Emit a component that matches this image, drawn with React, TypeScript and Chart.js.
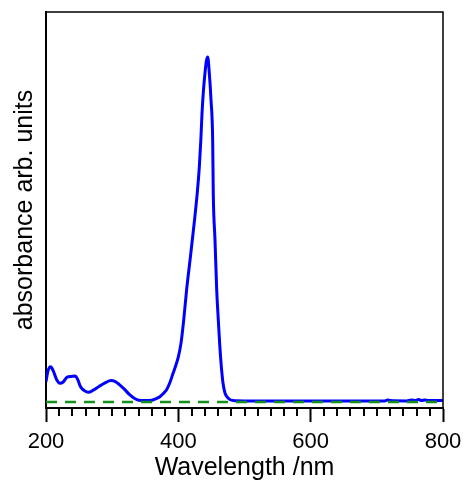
import React, { useEffect, useRef } from "react";
import { Chart, registerables } from "chart.js";

Chart.register(...registerables);

const wavelengths: number[] = [
  200, 203, 207, 211, 216, 221, 226, 232, 238, 244, 248, 252, 258, 264, 272, 280, 290, 298, 304, 310,
  318, 326, 334, 340, 350, 360, 366, 372, 378, 382, 387, 392, 396, 400, 404, 408, 412.5, 418.2,
  424, 428.6, 431.7, 434, 435.8, 437.7, 440.3, 442.5, 444.4, 446.8, 449.4, 451.9, 452.8, 455.4, 458,
  460.4, 462.6, 464.8, 467.5, 470.5, 475.5, 482.6, 500, 550, 600, 650, 700, 712, 716, 720, 745, 752,
  758, 763, 768, 772, 778, 790, 800,
];
const absorbance: number[] = [
  0.059, 0.09, 0.102, 0.09, 0.065, 0.054, 0.058, 0.072, 0.074, 0.075, 0.065, 0.045, 0.033, 0.028, 0.035,
  0.045, 0.056, 0.062, 0.06, 0.052, 0.038, 0.022, 0.01, 0.005, 0.004, 0.005, 0.009, 0.015, 0.026, 0.035,
  0.055, 0.083, 0.105, 0.131, 0.17, 0.235, 0.325, 0.42, 0.519, 0.606, 0.681, 0.759, 0.837, 0.896,
  0.954, 0.99, 1.0, 0.953, 0.875, 0.759, 0.606, 0.47, 0.325, 0.238, 0.165, 0.107, 0.055, 0.026, 0.011,
  0.004, 0.003, 0.003, 0.003, 0.003, 0.003, 0.003, 0.006, 0.004, 0.003, 0.006, 0.004, 0.007, 0.004,
  0.006, 0.004, 0.004, 0.004,
];
const baselineX: number[] = [200, 800];
const baselineY: number[] = [0, 0];
const majorTicks: number[] = [200, 400, 600, 800];
const minorStep = 20;

const FONT = "'Liberation Sans', Arial, sans-serif";

export default function App() {
  const ref = useRef<HTMLCanvasElement | null>(null);

  useEffect(() => {
    if (!ref.current) return;
    const framePlugin = {
      id: "frame",
      afterDraw(chart: any) {
        const { ctx, chartArea, scales } = chart;
        const xs = scales.x;
        ctx.save();
        ctx.strokeStyle = "#000";
        ctx.lineWidth = 2;
        ctx.beginPath();
        for (let v = 200; v <= 800; v += minorStep) {
          if (majorTicks.includes(v)) continue;
          const px = Math.round(xs.getPixelForValue(v));
          ctx.moveTo(px, chartArea.bottom);
          ctx.lineTo(px, chartArea.bottom + 8);
        }
        ctx.stroke();
        ctx.lineWidth = 1.5;
        ctx.beginPath();
        ctx.moveTo(chartArea.left, chartArea.top);
        ctx.lineTo(chartArea.right, chartArea.top);
        ctx.lineTo(chartArea.right, chartArea.bottom);
        ctx.stroke();
        ctx.restore();
      },
    };

    const chart = new Chart(ref.current, {
      type: "line",
      data: {
        datasets: [
          {
            data: baselineX.map((x, i) => ({ x, y: baselineY[i] })),
            borderColor: "#12901a",
            borderWidth: 2.5,
            borderDash: [11, 8],
            pointRadius: 0,
            fill: false,
          },
          {
            data: wavelengths.map((x, i) => ({ x, y: absorbance[i] })),
            borderColor: "#0000ff",
            borderWidth: 3,
            pointRadius: 0,
            fill: false,
            cubicInterpolationMode: "monotone",
          },
        ],
      },
      options: {
        animation: false,
        responsive: false,
        layout: { padding: { top: 12, right: 22, left: 0, bottom: 0 } },
        plugins: { legend: { display: false }, tooltip: { enabled: false } },
        scales: {
          x: {
            type: "linear",
            min: 200,
            max: 800,
            afterBuildTicks: (scale: any) => {
              scale.ticks = majorTicks.map((v) => ({ value: v }));
            },
            afterFit: (scale: any) => {
              scale.height = 74;
              scale.paddingLeft = 0;
              scale.paddingRight = 0;
            },
            grid: {
              display: true,
              drawOnChartArea: false,
              drawTicks: true,
              tickLength: 14,
              tickWidth: 2,
              tickColor: "#000",
            },
            border: { display: true, color: "#000", width: 2 },
            ticks: {
              color: "#000",
              padding: 7,
              maxRotation: 0,
              font: { family: FONT, size: 22 },
            },
            title: {
              display: true,
              text: "Wavelength /nm",
              color: "#000",
              font: { family: FONT, size: 25 },
              padding: { top: 0, bottom: -1 },
            },
          },
          y: {
            type: "linear",
            min: -0.0174,
            max: 1.1304,
            afterFit: (scale: any) => {
              scale.width = 46;
              scale.paddingTop = 0;
              scale.paddingBottom = 0;
            },
            grid: { display: false },
            border: { display: true, color: "#000", width: 2 },
            ticks: { display: false },
            title: {
              display: true,
              text: "absorbance arb. units",
              color: "#000",
              font: { family: FONT, size: 25 },
              padding: { top: 10, bottom: 0 },
            },
          },
        },
      },
      plugins: [framePlugin],
    } as any);
    return () => chart.destroy();
  }, []);

  return (
    <div style={{ position: "absolute", left: 0, top: 0, width: 465, height: 482 }}>
      <canvas ref={ref} width={465} height={482} />
    </div>
  );
}
